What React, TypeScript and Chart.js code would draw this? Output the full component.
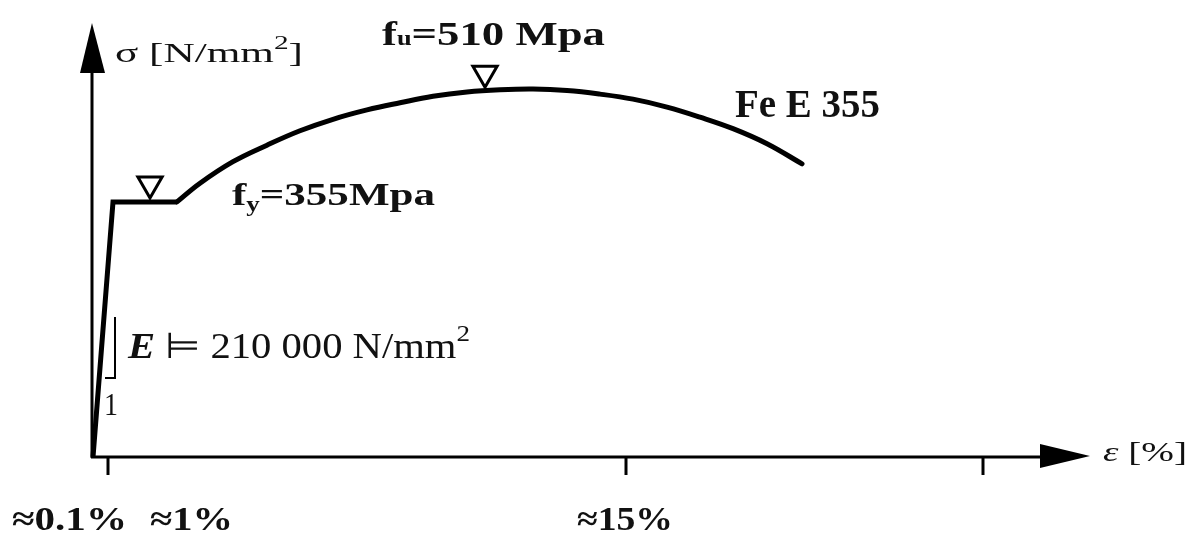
import React, { useEffect, useRef } from "react";
import { Chart, registerables } from "chart.js";

Chart.register(...registerables);

// Schematic strain axis (drawing units) and stress in N/mm²
const elasticStrain = [1, 21, 85];
const elasticStress = [0, 355, 355];
const hardeningStrain = [85, 108, 141, 175, 208, 241, 275, 308, 341, 375, 408, 441, 475, 508, 541, 575, 608, 641, 675, 710];
const hardeningStress = [355, 381, 411, 434, 454, 470, 483, 493, 502, 508, 511, 512, 510, 505, 498, 487, 473, 457, 436, 408];
const markerStrain = [58, 393];
const markerStress = [380, 534];
const xTickPositions = [16, 534, 891];
const xTickLabels = ["≈0.1%", "≈1%", "≈15%"];
const xTickLabelAnchors = [21, 85, 534];
const xMax = 998;
const yMax = 604;

const SERIF = "'Liberation Serif', 'Times New Roman', serif";

type Piece = { t: string; font: string; dy?: number };

function drawPieces(ctx: CanvasRenderingContext2D, pieces: Piece[], x: number, y: number, width?: number) {
  let total = 0;
  const ws = pieces.map((p) => {
    ctx.font = p.font;
    const w = ctx.measureText(p.t).width;
    total += w;
    return w;
  });
  const sx = width ? width / total : 1;
  ctx.save();
  ctx.translate(x, y);
  ctx.scale(sx, 1);
  let cx = 0;
  pieces.forEach((p, i) => {
    ctx.font = p.font;
    ctx.fillText(p.t, cx, p.dy || 0);
    cx += ws[i];
  });
  ctx.restore();
}

const diagramPlugin = {
  id: "diagram",
  afterDatasetsDraw(chart: any) {
    const ctx: CanvasRenderingContext2D = chart.ctx;
    const xs = chart.scales.x;
    const ys = chart.scales.y;
    const px = (v: number) => xs.getPixelForValue(v);
    const py = (v: number) => ys.getPixelForValue(v);
    const x0 = px(0);
    const y0 = py(0);
    const yTop = py(yMax);
    const xEnd = px(xMax);

    ctx.save();
    ctx.strokeStyle = "#000";
    ctx.fillStyle = "#000";
    ctx.lineCap = "butt";

    // axes
    ctx.lineWidth = 3;
    ctx.beginPath();
    ctx.moveTo(x0, y0 + 1);
    ctx.lineTo(x0, yTop + 45);
    ctx.moveTo(x0 - 1, y0);
    ctx.lineTo(xEnd - 45, y0);
    ctx.stroke();
    // arrow heads
    ctx.beginPath();
    ctx.moveTo(x0, yTop);
    ctx.lineTo(x0 - 12, yTop + 50);
    ctx.lineTo(x0 + 13, yTop + 50);
    ctx.closePath();
    ctx.fill();
    ctx.beginPath();
    ctx.moveTo(xEnd, y0 - 1);
    ctx.lineTo(xEnd - 50, y0 - 13);
    ctx.lineTo(xEnd - 50, y0 + 11);
    ctx.closePath();
    ctx.fill();

    // ticks
    ctx.lineWidth = 3;
    xTickPositions.forEach((t) => {
      ctx.beginPath();
      ctx.moveTo(px(t), y0);
      ctx.lineTo(px(t), y0 + 18);
      ctx.stroke();
    });

    // slope triangle
    ctx.lineWidth = 2;
    ctx.beginPath();
    ctx.moveTo(px(23), py(195));
    ctx.lineTo(px(23), py(110));
    ctx.lineTo(px(13), py(110));
    ctx.stroke();

    ctx.fillStyle = "#111";
    ctx.textBaseline = "alphabetic";
    ctx.textAlign = "left";

    // tick labels
    const tickWidths = [115, 83, 96];
    const tickOffsets = [-101, -27, -49];
    xTickLabels.forEach((lab, i) => {
      drawPieces(ctx, [{ t: lab, font: `bold 34px ${SERIF}` }], px(xTickLabelAnchors[i]) + tickOffsets[i], py(-102), tickWidths[i]);
    });

    // axis titles
    drawPieces(
      ctx,
      [
        { t: "σ [N/mm", font: `28px ${SERIF}` },
        { t: "2", font: `19px ${SERIF}`, dy: -13 },
        { t: "]", font: `28px ${SERIF}` },
      ],
      px(23),
      py(550),
      188
    );
    drawPieces(
      ctx,
      [
        { t: "ε", font: `italic 28px ${SERIF}` },
        { t: " [%]", font: `28px ${SERIF}` },
      ],
      px(1011),
      py(-6),
      84
    );

    // annotations
    drawPieces(
      ctx,
      [
        { t: "f", font: `bold 34px ${SERIF}` },
        { t: "u", font: `bold 20px ${SERIF}` },
        { t: "=510 Mpa", font: `bold 34px ${SERIF}` },
      ],
      px(290),
      py(573),
      223
    );
    drawPieces(
      ctx,
      [
        { t: "f", font: `bold 32px ${SERIF}` },
        { t: "y", font: `bold 20px ${SERIF}`, dy: 6 },
        { t: "=355Mpa", font: `bold 32px ${SERIF}` },
      ],
      px(140),
      py(351),
      203
    );
    drawPieces(ctx, [{ t: "Fe E 355", font: `bold 40px ${SERIF}` }], px(643), py(473), 145);
    drawPieces(
      ctx,
      [
        { t: "E", font: `italic bold 36px ${SERIF}` },
        { t: " ⊨ ", font: `36px ${SERIF}` },
        { t: "210 000 N/mm", font: `36px ${SERIF}` },
        { t: "2", font: `24px ${SERIF}`, dy: -17 },
      ],
      px(36),
      py(138),
      342
    );
    drawPieces(ctx, [{ t: "1", font: `32px ${SERIF}` }], px(12), py(58), 14);

    ctx.restore();
  },
};

export default function App() {
  const ref = useRef<HTMLCanvasElement | null>(null);
  useEffect(() => {
    document.body.style.margin = "0";
    document.body.style.background = "#fff";
    const canvas = ref.current;
    if (!canvas) return;
    const chart = new Chart(canvas, {
      type: "line",
      data: {
        datasets: [
          {
            type: "scatter",
            data: markerStrain.map((x, i) => ({ x, y: markerStress[i] })),
            pointStyle: "triangle",
            rotation: 180,
            pointRadius: 14,
            backgroundColor: "#fff",
            borderColor: "#000",
            borderWidth: 3,
            clip: false,
          } as any,
          {
            data: elasticStrain.map((x, i) => ({ x, y: elasticStress[i] })),
            borderColor: "#000",
            borderWidth: 5,
            pointRadius: 0,
            tension: 0,
            borderJoinStyle: "miter",
            clip: false,
          },
          {
            data: hardeningStrain.map((x, i) => ({ x, y: hardeningStress[i] })),
            borderColor: "#000",
            borderWidth: 5,
            pointRadius: 0,
            tension: 0.4,
            borderCapStyle: "round",
            clip: false,
          },
        ],
      },
      options: {
        responsive: false,
        animation: false,
        events: [],
        layout: { padding: { left: 92, right: 103, top: 23, bottom: 81 } },
        plugins: { legend: { display: false }, tooltip: { enabled: false } },
        scales: {
          x: { type: "linear", min: 0, max: xMax, display: false },
          y: { type: "linear", min: 0, max: yMax, display: false },
        },
      },
      plugins: [diagramPlugin],
    });
    return () => chart.destroy();
  }, []);
  return (
    <div style={{ width: 1193, height: 538, background: "#fff", overflow: "hidden" }}>
      <canvas ref={ref} width={1193} height={538} />
    </div>
  );
}
